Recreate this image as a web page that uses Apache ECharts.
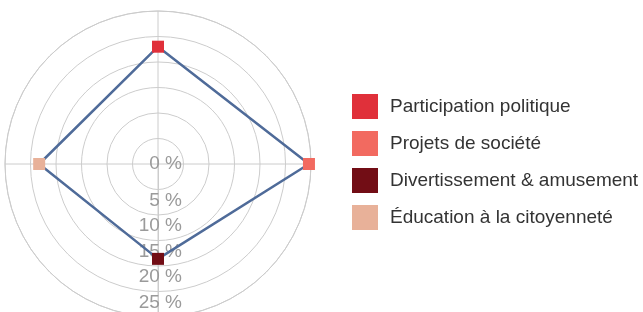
<!DOCTYPE html>
<html>
<head>
<meta charset="utf-8">
<script src="https://cdn.jsdelivr.net/npm/echarts@6/dist/echarts.min.js"></script>
<style>
  html, body { margin: 0; padding: 0; background: #fff; }
  #chart { width: 643px; height: 312px; }
</style>
</head>
<body>
<div id="chart"></div>
<script>
// categories in legend order
const categories = ['Participation politique', 'Projets de société', 'Divertissement & amusement', 'Éducation à la citoyenneté']
const values = [23, 29.6, 18.6, 23.3] // percent
// position on the angle axis, counted clockwise from the bottom axis
const anglePos = [2, 3, 0, 1]
const colors = ['#e0303a', '#f26a60', '#720d15', '#e8b199']

const chart = echarts.init(document.getElementById('chart'))

// outline goes round the axes in order, then back to the start
const order = anglePos.map((p, i) => i).sort((a, b) => anglePos[a] - anglePos[b])
const outline = order.map(i => [values[i], anglePos[i]])
outline.push([values[order[0]], anglePos[order[0]] + 4])

const markerSeries = categories.map((name, i) => ({
  name: name,
  type: 'scatter',
  coordinateSystem: 'polar',
  symbol: 'rect',
  symbolSize: 12,
  z: 5,
  itemStyle: { color: colors[i], opacity: 1 },
  data: [[values[i], anglePos[i]]]
}))

chart.setOption({
  animation: false,
  textStyle: { fontFamily: 'Liberation Sans' },
  polar: {
    center: [158, 164],
    radius: 153
  },
  angleAxis: {
    type: 'value',
    min: 0,
    max: 4,
    interval: 1,
    startAngle: 270,
    clockwise: true,
    axisLine: { show: true, lineStyle: { color: '#cccccc', width: 1 } },
    axisTick: { show: false },
    axisLabel: { show: false },
    splitLine: { show: true, lineStyle: { color: '#cccccc', width: 1 } }
  },
  radiusAxis: {
    min: 0,
    max: 30,
    interval: 5,
    axisLine: { show: true, lineStyle: { color: '#cccccc', width: 1 } },
    axisTick: { show: false },
    splitLine: { show: true, lineStyle: { color: '#cccccc', width: 1 } },
    axisLabel: {
      show: true,
      formatter: v => {
        if (v >= 30) return ''
        return v === 0 ? '{z|0 %}' : '{n|' + v + ' %}'
      },
      color: '#9a9a9a',
      fontSize: 19,
      align: 'right',
      verticalAlign: 'middle',
      margin: 24,
      rich: {
        z: { fontSize: 19, color: '#9a9a9a' },
        n: { fontSize: 19, color: '#9a9a9a', padding: [22, 0, 0, 0] }
      }
    }
  },
  legend: {
    orient: 'vertical',
    left: 352,
    top: 94,
    padding: 0,
    itemWidth: 26,
    itemHeight: 25,
    itemGap: 12,
    icon: 'rect',
    data: categories,
    textStyle: { fontSize: 19, color: '#333333', padding: [0, 0, 0, 7] }
  },
  series: [{
    type: 'line',
    coordinateSystem: 'polar',
    symbol: 'none',
    z: 3,
    lineStyle: { color: '#4f6b99', width: 2.5 },
    data: outline
  }].concat(markerSeries)
})
</script>
</body>
</html>
